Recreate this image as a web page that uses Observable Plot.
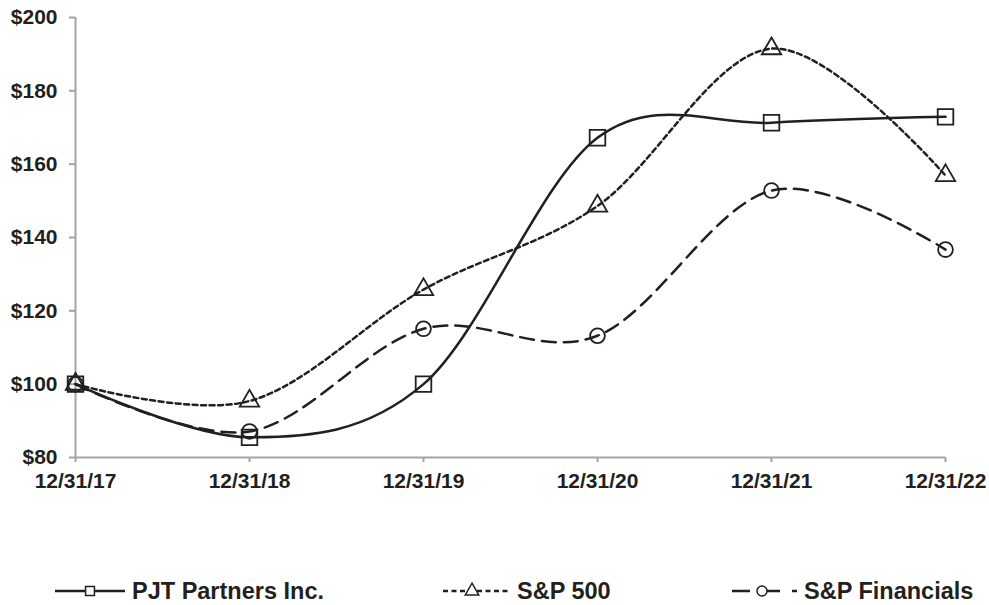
<!DOCTYPE html>
<html><head><meta charset="utf-8">
<script src="https://cdn.jsdelivr.net/npm/d3@7"></script>
<script src="https://cdn.jsdelivr.net/npm/@observablehq/plot@0.6"></script>
<style>
body{margin:0;background:#fff;width:989px;height:605px;position:relative;overflow:hidden;font-family:"Liberation Sans",Arial,sans-serif;}
#legend{position:absolute;left:0;top:576px;width:989px;height:30px;}
.item{position:absolute;top:0;display:flex;align-items:center;font-weight:bold;font-size:23.5px;color:#231f20;white-space:nowrap;}
.item svg{margin-right:7px;}
</style></head><body>
<div id="chart"></div>
<div id="legend"></div>
<script>
const dates = ["12/31/17","12/31/18","12/31/19","12/31/20","12/31/21","12/31/22"];
const pjt = [100, 85.5, 100, 167.2, 171.3, 172.9];
const sp500 = [100, 95.4, 125.8, 148.6, 191.5, 156.9];
const spFin = [100, 87.1, 115.1, 113.2, 152.8, 136.7];
const seriesNames = ["PJT Partners Inc.", "S&P 500", "S&P Financials"];
const yTicks = [80, 100, 120, 140, 160, 180, 200];

const ink = "#231f20";
const styles = {
  "PJT Partners Inc.": {dash: null, symbol: "square", r: 8.8},
  "S&P 500": {dash: "5,3.5", symbol: "triangle", r: 7.2},
  "S&P Financials": {dash: "14,8", symbol: "circle", r: 7.4}
};
const all = [pjt, sp500, spFin];
const rows = seriesNames.flatMap((s, i) => dates.map((d, j) => ({series: s, date: d, value: all[i][j]})));
const curve = d3.curveCardinal.tension(0);

const marks = [
  Plot.ruleY([80], {stroke: "#a3a3a3", strokeWidth: 2}),
  Plot.ruleX([dates[0]], {stroke: "#a3a3a3", strokeWidth: 2}),
  Plot.axisY({ticks: yTicks, tickSize: 6, tickPadding: 12, stroke: "#a3a3a3", strokeWidth: 2, fill: ink, tickFormat: d => "$" + d, fontWeight: "bold", fontSize: 21, label: null}),
  Plot.axisX({tickSize: 5, tickPadding: 11, stroke: "#a3a3a3", strokeWidth: 2, fill: ink, fontWeight: "bold", fontSize: 21, label: null})
];
for (const s of seriesNames) {
  const data = rows.filter(d => d.series === s);
  const st = styles[s];
  marks.push(Plot.line(data, {x: "date", y: "value", curve, stroke: ink, strokeWidth: 2.5, strokeDasharray: st.dash}));
  marks.push(Plot.dot(data, {x: "date", y: "value", symbol: () => st.symbol, r: st.r, stroke: ink, strokeWidth: 1.8, fill: "none"}));
}

const chart = Plot.plot({
  width: 989, height: 500,
  marginLeft: 75, marginRight: 44, marginTop: 17, marginBottom: 43,
  style: {fontFamily: "'Liberation Sans', Arial, sans-serif", background: "#fff", color: ink},
  x: {type: "point", domain: dates, padding: 0},
  y: {domain: [80, 200]},
  marks
});
document.getElementById("chart").append(chart);

// Legend
const legendPos = [
  {left: 55, w: 70, sym: 35},
  {left: 443, w: 67, sym: 29},
  {left: 732, w: 65, sym: 30}
];
const legend = document.getElementById("legend");
seriesNames.forEach((s, i) => {
  const st = styles[s], p = legendPos[i];
  const div = document.createElement("div");
  div.className = "item";
  div.style.left = p.left + "px";
  const ns = "http://www.w3.org/2000/svg";
  const svg = document.createElementNS(ns, "svg");
  svg.setAttribute("width", p.w); svg.setAttribute("height", 30);
  const ln = document.createElementNS(ns, "line");
  ln.setAttribute("x1", 0); ln.setAttribute("x2", p.w); ln.setAttribute("y1", 15); ln.setAttribute("y2", 15);
  ln.setAttribute("stroke", ink); ln.setAttribute("stroke-width", 2.5);
  if (i === 1) ln.setAttribute("stroke-dasharray", "5,3.5");
  if (i === 2) ln.setAttribute("stroke-dasharray", "18,12");
  svg.append(ln);
  const sym = document.createElementNS(ns, "path");
  sym.setAttribute("d", d3.symbol(st.symbol === "square" ? d3.symbolSquare : st.symbol === "triangle" ? d3.symbolTriangle : d3.symbolCircle, Math.PI * 5 * 5)());
  sym.setAttribute("transform", `translate(${p.sym},15)`);
  sym.setAttribute("fill", "#fff"); sym.setAttribute("stroke", ink); sym.setAttribute("stroke-width", 1.5);
  svg.append(sym);
  div.append(svg);
  const t = document.createElement("span"); t.textContent = s;
  div.append(t);
  legend.append(div);
});
</script></body></html>
